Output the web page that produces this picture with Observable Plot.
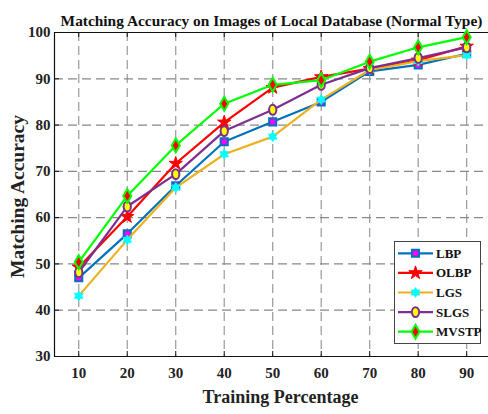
<!DOCTYPE html>
<html>
<head>
<meta charset="utf-8">
<script src="https://cdn.jsdelivr.net/npm/d3@7"></script>
<script src="https://cdn.jsdelivr.net/npm/@observablehq/plot@0.6"></script>
<style>
  html, body { margin: 0; padding: 0; background: #fff; }
  #chart { width: 488px; height: 414px; }
</style>
</head>
<body>
<div id="chart"></div>
<script>
// ---- data ----
const title = "Matching Accuracy on Images of Local Database (Normal Type)";
const xLabel = "Training Percentage";
const yLabel = "Matching Accuracy";
const trainPct = [10, 20, 30, 40, 50, 60, 70, 80, 90];
const xTicks = [10, 20, 30, 40, 50, 60, 70, 80, 90];
const yTicks = [30, 40, 50, 60, 70, 80, 90, 100];
const seriesNames = ["LBP", "OLBP", "LGS", "SLGS", "MVSTP"];
const LBP   = [47.0, 56.5, 66.9, 76.4, 80.7, 85.0, 91.6, 93.0, 95.4];
const OLBP  = [49.3, 60.2, 71.7, 80.6, 88.1, 90.4, 92.2, 94.0, 97.0];
const LGS   = [43.1, 55.2, 66.5, 73.7, 77.5, 85.5, 91.9, 93.8, 95.1];
const SLGS  = [48.2, 62.4, 69.4, 78.7, 83.3, 88.7, 92.3, 94.5, 96.8];
const MVSTP = [50.4, 64.7, 75.6, 84.6, 88.7, 89.7, 93.7, 96.8, 99.0];
const seriesValues = [LBP, OLBP, LGS, SLGS, MVSTP];

// ---- styles ----
const W = 488, H = 414;
const mL = 54, mT = 32, mB = 58, mR = 0;
const xDomain = [5, 94.5];
const yDomain = [30, 100];

const hexagram = {
  draw(context, size) {
    const r = Math.sqrt(size / Math.PI) * 1.35;
    const ri = r * 0.58;
    for (let i = 0; i < 12; i++) {
      const a = i * Math.PI / 6 - Math.PI / 2;
      const rr = i % 2 ? ri : r;
      const px = rr * Math.cos(a), py = rr * Math.sin(a);
      if (i === 0) context.moveTo(px, py); else context.lineTo(px, py);
    }
    context.closePath();
  }
};
const ellipse = {
  draw(context, size) {
    const r = Math.sqrt(size / Math.PI);
    const rx = r * 0.85, ry = r * 1.15, k = 0.5523;
    context.moveTo(0, -ry);
    context.bezierCurveTo(k * rx, -ry, rx, -k * ry, rx, 0);
    context.bezierCurveTo(rx, k * ry, k * rx, ry, 0, ry);
    context.bezierCurveTo(-k * rx, ry, -rx, k * ry, -rx, 0);
    context.bezierCurveTo(-rx, -k * ry, -k * rx, -ry, 0, -ry);
    context.closePath();
  }
};

const styles = {
  LBP:   {line: "#0072BD", symbol: "square",  fill: "#FF00FF", stroke: "#0072BD", r: 4.0, sw: 2},
  OLBP:  {line: "#FF0000", symbol: "star",    fill: "#FF0000", stroke: "#FF0000", r: 4.2, sw: 1},
  LGS:   {line: "#EDB120", symbol: hexagram,  fill: "#00FFFF", stroke: "#00FFFF", r: 3.6, sw: 1},
  SLGS:  {line: "#7E2F8E", symbol: ellipse,   fill: "#FFFF00", stroke: "#7E2F8E", r: 4.3, sw: 2},
  MVSTP: {line: "#00FF00", symbol: "diamond", fill: "#FF0000", stroke: "#00FF00", r: 4.2, sw: 2}
};

const table = [];
seriesNames.forEach((name, i) => {
  trainPct.forEach((x, j) => table.push({series: name, x, y: seriesValues[i][j]}));
});

const seriesMarks = [];
seriesNames.forEach(name => {
  const s = styles[name];
  const d = table.filter(t => t.series === name);
  seriesMarks.push(Plot.line(d, {x: "x", y: "y", stroke: s.line, strokeWidth: 2.2}));
  seriesMarks.push(Plot.dot(d, {x: "x", y: "y", symbol: s.symbol, fill: s.fill, stroke: s.stroke, strokeWidth: s.sw, r: s.r}));
});

const frameW = W - mL - mR, frameH = H - mT - mB;

const plot = Plot.plot({
  width: W, height: H,
  marginLeft: mL, marginTop: mT, marginBottom: mB, marginRight: mR,
  style: {fontFamily: "'Liberation Serif', 'Times New Roman', serif", fontSize: "14px", fontWeight: "bold", color: "#222", background: "#fff"},
  x: {domain: xDomain, ticks: xTicks},
  y: {domain: yDomain, ticks: yTicks},
  marks: [
    Plot.gridX(xTicks, {stroke: "#999", strokeOpacity: 1, strokeDasharray: "9,5", strokeWidth: 1.2}),
    Plot.gridY(yTicks, {stroke: "#888", strokeOpacity: 1, strokeDasharray: "9,5", strokeWidth: 1.2}),
    Plot.tickX(xTicks, {x: d => d, insetTop: frameH - 5, stroke: "#111"}),
    Plot.tickX(xTicks, {x: d => d, insetBottom: frameH - 5, stroke: "#111"}),
    Plot.tickY(yTicks, {y: d => d, insetRight: frameW - 5, stroke: "#111"}),
    Plot.ruleX([xDomain[0]], {stroke: "#111", strokeWidth: 1.2}),
    Plot.ruleY(yDomain, {stroke: "#111", strokeWidth: 1.2}),
    Plot.axisX(xTicks, {tickSize: 0, tickPadding: 11, fontSize: 15, fontWeight: "bold", fill: "#222", label: null}),
    Plot.axisY(yTicks, {tickSize: 0, tickPadding: 4, fontSize: 15, fontWeight: "bold", fill: "#222", label: null}),
    ...seriesMarks,
    Plot.text([title], {frameAnchor: "top", dy: -17, fontSize: 15.4, fontWeight: "bold", fill: "#111"}),
    Plot.text([xLabel], {frameAnchor: "bottom", dx: 9, dy: 46, fontSize: 18, fontWeight: "bold", fill: "#222"}),
    Plot.text([yLabel], {frameAnchor: "left", dx: -37, dy: 2, rotate: -90, textAnchor: "middle", fontSize: 19.5, fontWeight: "bold", fill: "#222"})
  ]
});

document.getElementById("chart").appendChild(plot);

// ---- legend ----
const svg = d3.select(plot);
const lg = svg.append("g").attr("class", "legend");
lg.append("rect").attr("x", 394.5).attr("y", 241.5).attr("width", 86).attr("height", 102)
  .attr("fill", "#fff").attr("stroke", "#444").attr("stroke-width", 1);
const symMap = {square: d3.symbolSquare, star: d3.symbolStar, diamond: d3.symbolDiamond};
seriesNames.forEach((name, i) => {
  const s = styles[name];
  const cy = 253.3 + i * 19.6;
  lg.append("line").attr("x1", 398).attr("x2", 433).attr("y1", cy).attr("y2", cy)
    .attr("stroke", s.line).attr("stroke-width", 2.2);
  const type = typeof s.symbol === "string" ? symMap[s.symbol] : s.symbol;
  lg.append("path").attr("transform", `translate(415.5,${cy})`)
    .attr("d", d3.symbol().type(type).size(Math.PI * s.r * s.r)())
    .attr("fill", s.fill).attr("stroke", s.stroke).attr("stroke-width", s.sw);
  lg.append("text").attr("x", 436).attr("y", cy).attr("dy", "0.35em")
    .attr("text-anchor", "start")
    .attr("font-size", 13).attr("font-weight", "bold").attr("fill", "#111")
    .text(name);
});
</script>
</body>
</html>
